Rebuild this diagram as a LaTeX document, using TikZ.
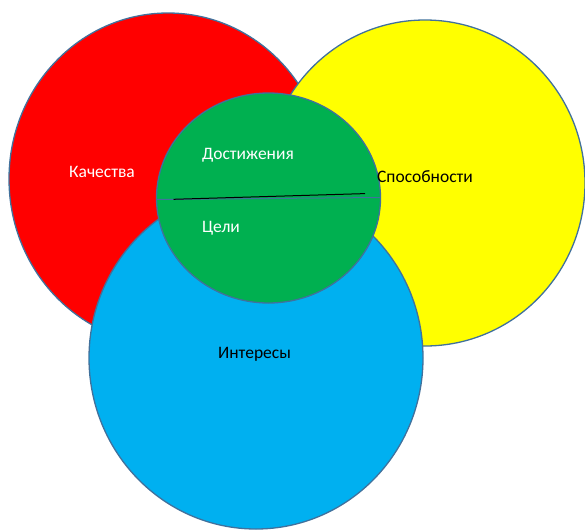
\documentclass[tikz,border=0pt]{standalone}
\usepackage{fontspec}
\setmainfont{Carlito}
\definecolor{cred}{HTML}{FF0000}
\definecolor{cyellow}{HTML}{FFFF00}
\definecolor{cblue}{HTML}{00B0F0}
\definecolor{cgreen}{HTML}{00B050}
\definecolor{cedge}{HTML}{41719C}
\begin{document}
\begin{tikzpicture}[x=1pt,y=-1pt,
  blob/.style={draw=cedge,line width=1.3pt},
  lbl/.style={font=\fontsize{17.5}{20}\selectfont,inner sep=0pt}]
\useasboundingbox (0,0) rectangle (585,530);
% red
\draw[blob,fill=cred] (168,179) ellipse [x radius=159, y radius=166];
% yellow
\draw[blob,fill=cyellow] (425,183) ellipse [x radius=160, y radius=163];
% blue
\draw[blob,fill=cblue] (256,358) ellipse [x radius=167, y radius=171];
% green
\draw[blob,fill=cgreen] (268.5,198) ellipse [x radius=112, y radius=105];
\coordinate (gl) at (156.5,199.5);
\coordinate (gr) at (380.5,197.5);
\draw[cedge,line width=1pt] (gl) -- (gr);
\coordinate (bl) at (173.5,199.3);
\coordinate (br) at (365,193.6);
\draw[black,line width=1pt] (bl) -- (br);
\node[lbl,text=white] (kach) at (102,172) {Качества};
\node[lbl,text=white] (dost) at (248,155) {Достижения};
\node[lbl,text=white] (celi) at (221,228) {Цели};
\node[lbl,text=black] (spos) at (425,177) {Способности};
\node[lbl,text=black] (inte) at (254.5,354) {Интересы};
\end{tikzpicture}
\end{document}
